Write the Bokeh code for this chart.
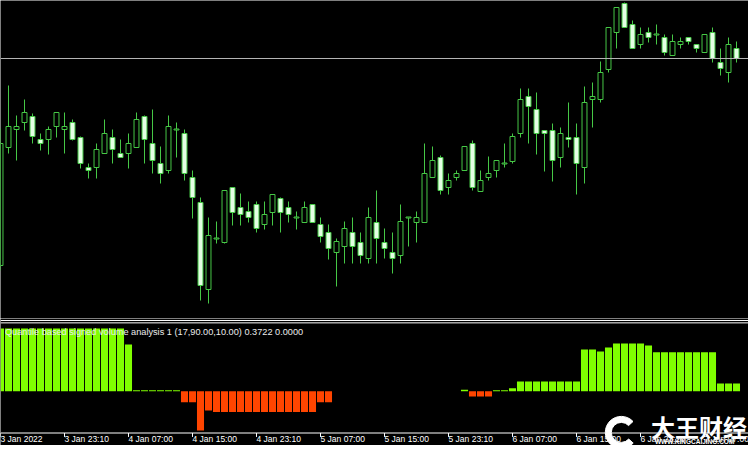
from bokeh.plotting import figure
from bokeh.layouts import column
from bokeh.models import Range1d, Span, Label, ColumnDataSource
from bokeh.core.properties import value
from bokeh.embed import file_html
from bokeh.resources import INLINE

# ---- price candles (points) ----
opens = [55,173,191,198,204,181,181,194,191,198,
         183,153,153,167,183,167,167,173,204,177,
         157,150,191,187,143,118,31,82,78,133,
         113,109,116,96,108,122,113,103,98,116,
         96,88,68,74,88,78,62,98,78,68,
         65,103,98,98,143,163,133,143,150,177,
         129,143,150,157,159,187,224,211,190,190,
         163,183,183,153,221,221,251,288,317,296,
         276,288,286,283,265,276,283,276,268,288,
         258,248,272]
highs = [192,235,205,221,207,187,194,208,208,201,
         184,157,177,201,191,181,187,208,205,211,
         174,205,198,191,150,123,103,99,130,133,
         127,119,119,119,126,123,119,109,119,116,
         103,96,82,99,103,88,113,130,92,88,
         116,103,109,177,174,165,147,150,174,180,
         150,164,160,177,187,232,232,228,190,197,
         193,218,197,234,238,259,293,313,318,300,
         293,293,296,286,286,283,283,276,286,293,
         272,283,279]
lows = [50,167,160,190,177,170,166,183,167,180,
        152,142,142,167,157,163,152,173,157,147,
        137,147,163,140,102,20,17,77,77,95,
        95,98,88,91,95,88,98,91,98,98,
        78,61,34,57,57,57,57,57,62,47,
        57,74,78,98,143,126,126,140,150,130,
        129,140,143,153,157,183,177,166,149,139,
        153,173,126,137,193,218,248,272,293,272,
        272,278,276,265,265,272,276,268,268,258,
        245,238,258]
closes = [177,194,194,208,184,177,191,208,194,181,
          157,150,171,187,171,163,177,201,181,160,
          147,194,191,147,123,35,85,82,130,108,
          106,103,92,106,126,108,106,103,113,98,
          84,72,79,92,74,65,103,82,72,62,
          99,103,103,147,160,130,140,147,174,133,
          140,147,160,157,184,221,214,187,187,160,
          187,181,157,218,224,248,293,313,293,272,
          286,283,286,268,279,279,279,272,286,262,
          252,276,262]
level_line = 262

# ---- indicator: quantile based signed volume ----
signed_volume = [3.03,3.03,3.03,3.03,3.03,3.03,3.03,3.03,3.03,3.03,
                 3.03,3.03,3.03,3.03,3.03,3.03,2.26,0.04,0.04,0.04,
                 0.04,0.04,0.04,-0.53,-0.53,-1.90,-0.93,-1.01,-1.01,-1.01,
                 -1.01,-1.01,-1.01,-1.01,-1.01,-1.01,-1.01,-1.01,-1.01,-1.01,
                 -0.53,-0.53,0,0,0,0,0,0,0,0,
                 0,0,0,0,0,0,0,0,0.07,-0.26,
                 -0.26,-0.26,0.05,0.05,0.14,0.47,0.47,0.47,0.47,0.47,
                 0.47,0.47,0.47,2.01,2.01,1.92,2.11,2.30,2.30,2.30,
                 2.30,2.21,1.88,1.88,1.88,1.88,1.88,1.88,1.88,1.88,
                 0.3722,0.3722,0.3722]
tick_bars = [0, 8, 16, 24, 32, 40, 48, 56, 64, 72, 80, 88]
tick_labels = ["3 Jan 2022", "3 Jan 23:10", "4 Jan 07:00", "4 Jan 15:00",
               "4 Jan 23:10", "5 Jan 07:00", "5 Jan 15:00", "5 Jan 23:10",
               "6 Jan 07:00", "6 Jan 15:00", "6 Jan 23:10", "7 Jan 07:00"]
ind_title = "Quantile based signed volume analysis 1 (17,90.00,10.00) 0.3722 0.0000"

GREEN = "#46c846"
PALE = "#e4ffe4"
POS = "#80ff00"
NEG = "#ff4500"

n = len(opens)
xs = list(range(n))
btop, bbot, fills = [], [], []
for o, c in zip(opens, closes):
    hi, lo = max(o, c), min(o, c)
    if hi - lo < 1:
        hi, lo = hi + 0.5, lo - 0.5
    btop.append(hi)
    bbot.append(lo)
    fills.append(PALE if c < o else "black")

csrc = ColumnDataSource(dict(x=xs, high=highs, low=lows, top=btop, bottom=bbot, fill=fills))
vsrc = ColumnDataSource(dict(x=xs, v=signed_volume,
                             color=[POS if v >= 0 else NEG for v in signed_volume]))

W = 748
xr = Range1d(0, 93.5)

main = figure(width=W, height=318, x_range=xr, y_range=Range1d(2, 320),
              output_backend="svg", toolbar_location=None,
              x_axis_location=None, y_axis_location=None,
              min_border=0, background_fill_color="black",
              border_fill_color="black", outline_line_color=None)
main.grid.visible = False
main.segment(x0="x", y0="low", x1="x", y1="high", source=csrc,
             line_color=GREEN, line_width=1)
main.vbar(x="x", width=0.62, top="top", bottom="bottom", source=csrc,
          fill_color="fill", line_color=GREEN, line_width=1)
main.add_layout(Span(location=level_line, dimension="width",
                     line_color="#b4b4b4", line_width=1))

# indicator panel (the time axis is drawn inside its frame)
AX_Y = -2.02      # time-axis line
TICK_END = -2.21
LABEL_Y = -2.33
ind = figure(width=W, height=127, x_range=xr, y_range=Range1d(-2.623, 3.511),
             output_backend="svg", toolbar_location=None,
             x_axis_location=None, y_axis_location=None, min_border=0,
             background_fill_color="black", border_fill_color="black",
             outline_line_color=None)
ind.grid.visible = False
ind.vbar(x="x", width=0.88, top="v", bottom=0, source=vsrc,
         fill_color="color", line_color=None)
ind.add_layout(Span(location=3.415, dimension="width", line_color="white", line_width=1))
ind.add_layout(Span(location=3.30, dimension="width", line_color="white", line_width=1))
ind.add_layout(Label(x=0.55, y=2.85, text=ind_title, text_color="#ececec",
                     text_font="Liberation Sans", text_font_size="9.2px",
                     text_baseline="middle"))

# time axis
ind.add_layout(Span(location=AX_Y, dimension="width", line_color="white", line_width=1))
tsrc = ColumnDataSource(dict(x=tick_bars, y0=[AX_Y] * len(tick_bars),
                             y1=[TICK_END] * len(tick_bars),
                             ly=[LABEL_Y] * len(tick_bars), label=tick_labels))
ind.segment(x0="x", y0="y0", x1="x", y1="y1", source=tsrc,
            line_color="white", line_width=1)
ind.text(x="x", y="ly", text="label", source=tsrc, text_align="left",
         text_baseline="middle", text_color="white",
         text_font=value("Liberation Sans"), text_font_size="8.5px")

# watermark
ind.annular_wedge(x=[77.6], y=[-1.99], inner_radius=10, outer_radius=16,
                  inner_radius_units="screen", outer_radius_units="screen",
                  start_angle=0.75, end_angle=5.55, color="white")
ind.add_layout(Label(x=81.3, y=-1.72, text="大王财经", text_color="white",
                     text_font="Noto Sans CJK SC", text_font_style="bold",
                     text_font_size="24px", text_baseline="middle"))
ind.add_layout(Label(x=81.8, y=-2.45, text="WWW.KINGCAIJING.COM", text_color="white",
                     text_font="Liberation Sans", text_font_style="bold",
                     text_font_size="6.5px", text_baseline="middle"))

layout = column(main, ind, spacing=0)
open("out.html", "w").write(file_html(layout, INLINE))
